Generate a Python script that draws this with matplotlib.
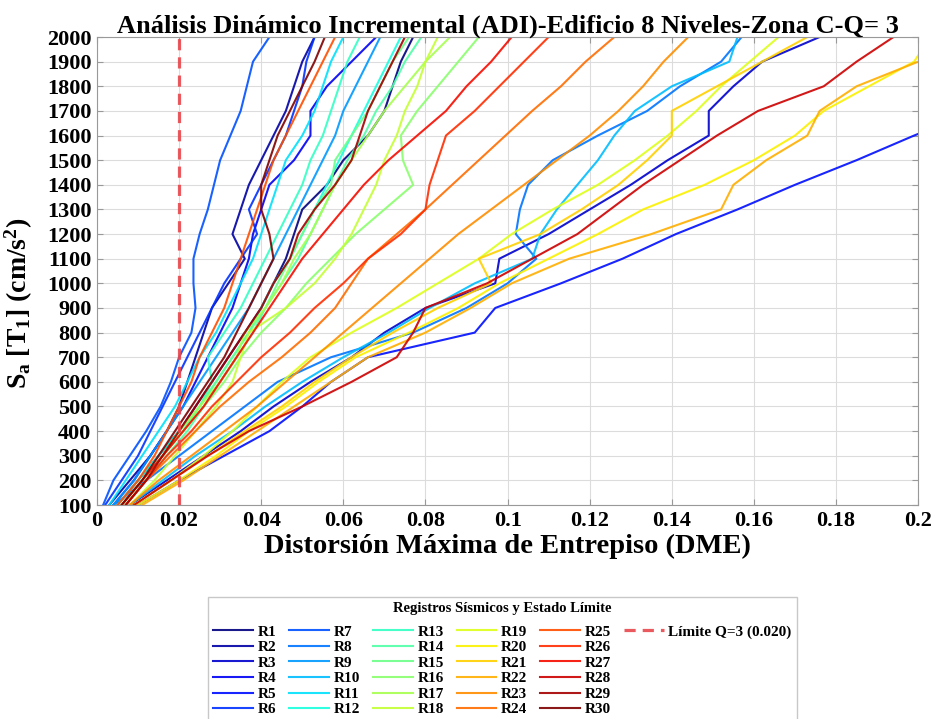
import numpy as np
import matplotlib
matplotlib.use("Agg")
import matplotlib.pyplot as plt
from matplotlib.lines import Line2D
from matplotlib.ticker import FuncFormatter, MultipleLocator

plt.rcParams['font.family'] = ['Liberation Serif', 'DejaVu Serif']
plt.rcParams['font.weight'] = 'bold'
plt.rcParams['mathtext.fontset'] = 'custom'
plt.rcParams['mathtext.rm'] = 'Liberation Serif:bold'
plt.rcParams['mathtext.it'] = 'Liberation Serif:bold'
plt.rcParams['mathtext.bf'] = 'Liberation Serif:bold'

# intensity levels Sa (cm/s2)
sa = [100, 200, 300, 400, 500, 600, 700, 800, 900, 1000,
      1100, 1200, 1300, 1400, 1500, 1600, 1700, 1800, 1900, 2000]

# max interstory drift for each record
R1 = [0.005, 0.010, 0.015, 0.020, 0.024, 0.028, 0.032, 0.036, 0.040, 0.043, 0.046, 0.048, 0.050, 0.056, 0.060, 0.066, 0.070, 0.072, 0.074, 0.077]
R2 = [0.003, 0.008, 0.013, 0.017, 0.020, 0.022, 0.024, 0.026, 0.028, 0.032, 0.036, 0.033, 0.035, 0.037, 0.040, 0.043, 0.046, 0.048, 0.050, 0.053]
R3 = [0.008, 0.017, 0.026, 0.035, 0.043, 0.052, 0.062, 0.070, 0.080, 0.097, 0.098, 0.110, 0.120, 0.130, 0.139, 0.149, 0.149, 0.155, 0.162, 0.176]
R4 = [0.004, 0.009, 0.013, 0.017, 0.021, 0.024, 0.027, 0.030, 0.033, 0.035, 0.037, 0.038, 0.040, 0.042, 0.048, 0.052, 0.052, 0.056, 0.062, 0.068]
R5 = [0.010, 0.020, 0.031, 0.042, 0.050, 0.057, 0.066, 0.092, 0.097, 0.113, 0.128, 0.141, 0.156, 0.170, 0.185, 0.199, 0.214, 0.228, 0.242, 0.256]
R6 = [0.002, 0.006, 0.010, 0.013, 0.016, 0.019, 0.022, 0.025, 0.028, 0.031, 0.035, 0.039, 0.037, 0.040, 0.043, 0.046, 0.048, 0.050, 0.051, 0.053]
R7 = [0.0015, 0.004, 0.008, 0.012, 0.0155, 0.018, 0.020, 0.023, 0.024, 0.0235, 0.0235, 0.025, 0.027, 0.0285, 0.030, 0.0325, 0.035, 0.0365, 0.038, 0.042]
R8 = [0.004, 0.012, 0.020, 0.028, 0.036, 0.044, 0.057, 0.077, 0.090, 0.100, 0.107, 0.102, 0.103, 0.105, 0.111, 0.122, 0.134, 0.142, 0.152, 0.157]
R9 = [0.004, 0.009, 0.013, 0.017, 0.021, 0.025, 0.029, 0.033, 0.037, 0.040, 0.043, 0.046, 0.049, 0.052, 0.055, 0.058, 0.060, 0.063, 0.066, 0.069]
R10 = [0.008, 0.016, 0.024, 0.033, 0.041, 0.050, 0.060, 0.071, 0.081, 0.092, 0.106, 0.108, 0.112, 0.117, 0.122, 0.126, 0.131, 0.140, 0.154, 0.156]
R11 = [0.003, 0.007, 0.011, 0.015, 0.019, 0.022, 0.025, 0.029, 0.032, 0.035, 0.038, 0.040, 0.042, 0.044, 0.046, 0.050, 0.053, 0.055, 0.057, 0.060]
R12 = [0.005, 0.010, 0.015, 0.020, 0.025, 0.029, 0.033, 0.037, 0.040, 0.043, 0.047, 0.050, 0.053, 0.056, 0.059, 0.062, 0.065, 0.068, 0.071, 0.074]
R13 = [0.006, 0.011, 0.016, 0.021, 0.025, 0.028, 0.027, 0.031, 0.035, 0.038, 0.041, 0.044, 0.047, 0.050, 0.052, 0.055, 0.057, 0.059, 0.061, 0.064]
R14 = [0.007, 0.012, 0.017, 0.022, 0.026, 0.030, 0.034, 0.038, 0.041, 0.045, 0.049, 0.052, 0.055, 0.058, 0.061, 0.065, 0.068, 0.072, 0.075, 0.079]
R15 = [0.006, 0.011, 0.016, 0.021, 0.025, 0.029, 0.033, 0.037, 0.041, 0.044, 0.047, 0.050, 0.053, 0.057, 0.058, 0.062, 0.066, 0.069, 0.072, 0.076]
R16 = [0.006, 0.011, 0.016, 0.021, 0.026, 0.031, 0.035, 0.040, 0.046, 0.051, 0.057, 0.063, 0.070, 0.077, 0.0745, 0.074, 0.078, 0.083, 0.088, 0.093]
R17 = [0.006, 0.011, 0.016, 0.020, 0.025, 0.030, 0.034, 0.036, 0.041, 0.045, 0.048, 0.052, 0.055, 0.058, 0.062, 0.066, 0.070, 0.075, 0.080, 0.086]
R18 = [0.008, 0.014, 0.019, 0.024, 0.029, 0.033, 0.035, 0.037, 0.046, 0.053, 0.058, 0.062, 0.065, 0.068, 0.070, 0.073, 0.075, 0.078, 0.080, 0.083]
R19 = [0.009, 0.018, 0.026, 0.033, 0.039, 0.045, 0.052, 0.062, 0.073, 0.083, 0.093, 0.101, 0.111, 0.122, 0.131, 0.139, 0.146, 0.152, 0.159, 0.166]
R20 = [0.010, 0.020, 0.029, 0.037, 0.046, 0.054, 0.063, 0.076, 0.088, 0.098, 0.110, 0.122, 0.133, 0.148, 0.160, 0.170, 0.177, 0.188, 0.199, 0.203]
R21 = [0.009, 0.018, 0.027, 0.036, 0.045, 0.053, 0.062, 0.072, 0.083, 0.096, 0.093, 0.108, 0.118, 0.127, 0.134, 0.140, 0.140, 0.151, 0.162, 0.173]
R22 = [0.011, 0.021, 0.030, 0.039, 0.048, 0.057, 0.066, 0.080, 0.091, 0.101, 0.115, 0.135, 0.152, 0.155, 0.163, 0.173, 0.176, 0.185, 0.200, 0.215]
R23 = [0.008, 0.015, 0.023, 0.031, 0.039, 0.046, 0.053, 0.060, 0.067, 0.074, 0.081, 0.088, 0.096, 0.104, 0.112, 0.120, 0.127, 0.133, 0.138, 0.144]
R24 = [0.007, 0.012, 0.018, 0.024, 0.030, 0.037, 0.045, 0.052, 0.058, 0.062, 0.066, 0.073, 0.080, 0.0865, 0.093, 0.0995, 0.106, 0.113, 0.119, 0.126]
R25 = [0.005, 0.010, 0.014, 0.017, 0.020, 0.023, 0.025, 0.028, 0.031, 0.033, 0.035, 0.037, 0.039, 0.041, 0.043, 0.046, 0.049, 0.052, 0.055, 0.058]
R26 = [0.007, 0.012, 0.017, 0.023, 0.028, 0.034, 0.040, 0.047, 0.053, 0.060, 0.066, 0.074, 0.080, 0.081, 0.083, 0.085, 0.092, 0.098, 0.104, 0.110]
R27 = [0.006, 0.011, 0.016, 0.021, 0.026, 0.030, 0.034, 0.038, 0.042, 0.046, 0.050, 0.055, 0.060, 0.065, 0.071, 0.078, 0.085, 0.090, 0.096, 0.101]
R28 = [0.009, 0.018, 0.027, 0.037, 0.050, 0.062, 0.073, 0.077, 0.080, 0.095, 0.106, 0.117, 0.125, 0.133, 0.142, 0.151, 0.161, 0.177, 0.185, 0.194]
R29 = [0.007, 0.012, 0.016, 0.020, 0.024, 0.028, 0.032, 0.036, 0.040, 0.043, 0.047, 0.049, 0.053, 0.058, 0.062, 0.064, 0.066, 0.069, 0.072, 0.075]
R30 = [0.006, 0.011, 0.015, 0.019, 0.023, 0.027, 0.031, 0.034, 0.037, 0.040, 0.043, 0.042, 0.040, 0.040, 0.042, 0.044, 0.047, 0.050, 0.053, 0.0555]

records = [R1, R2, R3, R4, R5, R6, R7, R8, R9, R10, R11, R12, R13, R14, R15,
           R16, R17, R18, R19, R20, R21, R22, R23, R24, R25, R26, R27, R28, R29, R30]
names = ['R%d' % (i + 1) for i in range(len(records))]

limit_drift = 0.020

fig = plt.figure(figsize=(9.35, 7.19), dpi=100)
ax = fig.add_axes([0.1037, 0.2976, 0.8783, 0.6509])

colors = plt.cm.jet(np.linspace(0, 1, len(records)))
handles = []
for rec, name, c in zip(records, names, colors):
    ln, = ax.plot(rec, sa, color=c, lw=1.5, alpha=0.9, label=name)
    handles.append(ln)

lim = ax.axvline(limit_drift, color='#e8474b', lw=2.3, ls=(0, (3.5, 2.2)), alpha=0.9,
                 label='Límite Q=3 (%.3f)' % limit_drift)
handles.append(lim)

ax.set_xlim(0, 0.2)
ax.set_ylim(100, 2000)
ax.xaxis.set_major_locator(MultipleLocator(0.02))
ax.yaxis.set_major_locator(MultipleLocator(100))
ax.xaxis.set_major_formatter(FuncFormatter(lambda v, p: '%g' % round(v, 3)))
ax.grid(True, color='#dcdcdc', lw=0.8)
ax.tick_params(direction='in', top=True, right=True, length=4, color='#999999',
               labelsize=16, pad=4)
for s in ax.spines.values():
    s.set_color('#999999')
    s.set_linewidth(0.8)

ax.set_title('Análisis Dinámico Incremental (ADI)-Edificio 8 Niveles-Zona C-Q= 3',
             fontsize=19, fontweight='bold', pad=3)
ax.set_xlabel('Distorsión Máxima de Entrepiso (DME)', fontsize=20.5, fontweight='bold', labelpad=2)
ax.set_ylabel(r'S$_\mathrm{a}$ [T$_\mathrm{1}$] (cm/s$^\mathrm{2}$)', fontsize=20,
              fontweight='bold')
ax.yaxis.set_label_coords(-0.075, 0.43)

# pad the last column so the limit entry sits alone in column 6
blank = [Line2D([], [], color='none') for _ in range(5)]
labels = names + [lim.get_label()] + [''] * 5
leg = ax.legend(handles + blank, labels, loc='upper center',
                bbox_to_anchor=(0.5374, 0.1697), bbox_transform=fig.transFigure, ncol=6,
                title='Registros Sísmicos y Estado Límite', fontsize=11,
                title_fontproperties={'weight': 'bold', 'size': 10.5},
                handlelength=2.6, handletextpad=0.3, columnspacing=0.85,
                labelspacing=0.12, borderpad=0.35, borderaxespad=0, frameon=True,
                fancybox=False, edgecolor='#bbbbbb')
leg._legend_box.sep = 7

fig.savefig('out.png', dpi=100)
